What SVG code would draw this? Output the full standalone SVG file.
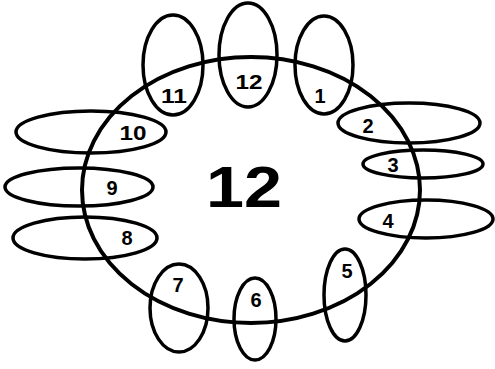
<svg xmlns="http://www.w3.org/2000/svg" width="495" height="369" viewBox="0 0 495 369">
<style>
.o{fill:none;stroke:#000;stroke-width:3.5}
.m{fill:none;stroke:#000;stroke-width:4}
.t{font-family:"Liberation Sans",Arial,sans-serif;font-weight:bold;font-size:20px;text-anchor:middle;fill:#000}
.b{font-family:"Liberation Sans",Arial,sans-serif;font-weight:bold;font-size:58px;text-anchor:middle;fill:#000}
</style>
<rect width="495" height="369" fill="#fff"/>
<g id="main"><ellipse class="m" cx="251" cy="190" rx="169" ry="133"/><text class="b" x="244" y="207" textLength="76" lengthAdjust="spacingAndGlyphs">12</text></g>
<g id="n12"><ellipse class="o" cx="248" cy="55" rx="29" ry="52"/><text class="t" x="249" y="89" textLength="27" lengthAdjust="spacingAndGlyphs">12</text></g>
<g id="n11"><ellipse class="o" cx="173" cy="65" rx="30" ry="50"/><text class="t" x="174" y="103" textLength="26" lengthAdjust="spacingAndGlyphs">11</text></g>
<g id="n1"><ellipse class="o" cx="324" cy="65" rx="29" ry="49"/><text class="t" x="320" y="103">1</text></g>
<g id="n10"><ellipse class="o" cx="91" cy="132" rx="75" ry="21"/><text class="t" x="133" y="140" textLength="27" lengthAdjust="spacingAndGlyphs">10</text></g>
<g id="n2"><ellipse class="o" cx="409" cy="123" rx="71" ry="20"/><text class="t" x="368" y="133">2</text></g>
<g id="n3"><ellipse class="o" cx="423" cy="164" rx="60" ry="14"/><text class="t" x="393" y="172">3</text></g>
<g id="n9"><ellipse class="o" cx="79" cy="187" rx="74" ry="19"/><text class="t" x="112" y="195">9</text></g>
<g id="n8"><ellipse class="o" cx="85" cy="238" rx="72" ry="21"/><text class="t" x="127" y="245">8</text></g>
<g id="n4"><ellipse class="o" cx="426" cy="219" rx="67" ry="19"/><text class="t" x="388" y="228">4</text></g>
<g id="n5"><ellipse class="o" cx="345" cy="295" rx="21" ry="46"/><text class="t" x="347" y="278">5</text></g>
<g id="n6"><ellipse class="o" cx="255" cy="319" rx="21" ry="41"/><text class="t" x="256" y="307">6</text></g>
<g id="n7"><ellipse class="o" cx="179" cy="308" rx="29" ry="44"/><text class="t" x="178" y="292">7</text></g>
<g id="connectors"/>
</svg>
